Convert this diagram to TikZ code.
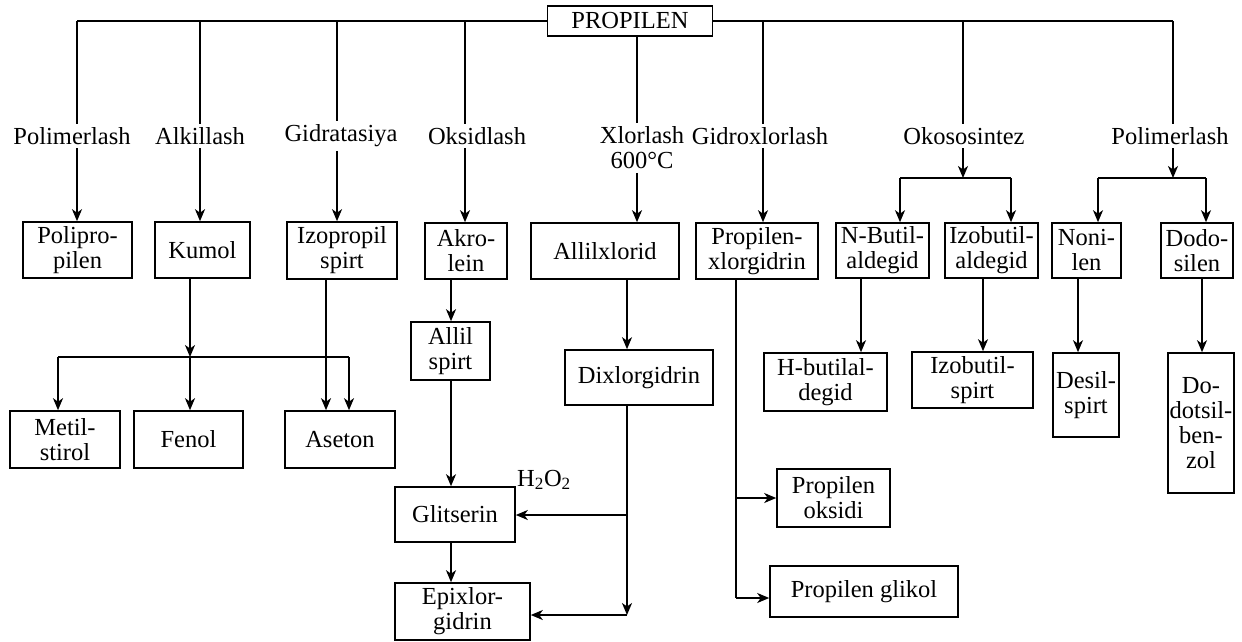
\documentclass[tikz,border=0pt]{standalone}
\usepackage{fontspec}
\setmainfont{Liberation Serif}
\usetikzlibrary{arrows.meta,calc}
\begin{document}
\begin{tikzpicture}[x=1pt,y=-1pt,
  every node/.style={font=\fontsize{24.5}{25}\selectfont},
  line width=1.6pt,
  arr/.style={-{Stealth[length=12pt,width=10pt,inset=3.5pt]}},
  bx/.style={draw,align=center,inner sep=0pt},
  lbl/.style={align=center,inner sep=3pt}]
\useasboundingbox (0,0) rectangle (1242,642);
% top
\node[bx,minimum width=165pt,minimum height=30pt] (prop) at (630,21) {PROPILEN};
\coordinate (b1) at (77,21);
\coordinate (b2) at (200,21);
\coordinate (b3) at (337,21);
\coordinate (b4) at (465,21);
\coordinate (b5) at (637,21);
\coordinate (b6) at (763,21);
\coordinate (b7) at (963,21);
\coordinate (b8) at (1173,21);
\draw (prop.west) -- (b1);
\draw (prop.east) -- (b8);
% labels
\node[lbl] (l1) at (72,136) {Polimerlash};
\node[lbl] (l2) at (200,136) {Alkillash};
\node[lbl] (l3) at (341,136) {Gidratasiya};
\node[lbl] (l4) at (477,136) {Oksidlash};
\node[lbl] (l5) at (642,148) {Xlorlash\\600°C};
\node[lbl] (l6) at (760,136) {Gidroxlorlash};
\node[lbl] (l7) at (964,136) {Okososintez};
\node[lbl] (l8) at (1170,136) {Polimerlash};
% first row boxes
\node[bx,minimum width=109pt,minimum height=56pt] (pp) at (77.5,250) {Polipro-\\pilen};
\node[bx,minimum width=95pt,minimum height=56pt] (km) at (202.5,250) {Kumol};
\node[bx,minimum width=110pt,minimum height=57pt] (ip) at (342,250.5) {Izopropil\\spirt};
\node[bx,minimum width=82pt,minimum height=56pt] (ak) at (466,251) {Akro-\\lein};
\node[bx,minimum width=148pt,minimum height=56pt] (ax) at (605,251) {Allilxlorid};
\node[bx,minimum width=122pt,minimum height=56pt] (px) at (757,251) {Propilen-\\xlorgidrin};
\node[bx,minimum width=93pt,minimum height=55pt] (nb) at (882.5,250.5) {N-Butil-\\aldegid};
\node[bx,minimum width=93pt,minimum height=55pt] (ib) at (991.5,250.5) {Izobutil-\\aldegid};
\node[bx,minimum width=69pt,minimum height=55pt] (nl) at (1086.5,250.5) {Noni-\\len};
\node[bx,minimum width=72pt,minimum height=55pt] (ds) at (1197,250.5) {Dodo-\\silen};
% main verticals
\foreach \b/\l/\t in {b1/l1/pp,b2/l2/km,b3/l3/ip,b4/l4/ak,b6/l6/px}{
  \draw (\b) -- (\b |- \l.north);
  \draw[arr] (\l.south -| \b) -- (\t.north -| \b);
}
\draw (prop.south -| b5) -- (b5 |- l5.north);
\draw[arr] (l5.south -| b5) -- (ax.north -| b5);
% Okososintez
\coordinate (o1) at (963,178);
\coordinate (o2) at (900,178);
\coordinate (o3) at (1011,178);
\draw (b7) -- (b7 |- l7.north);
\draw[arr] (l7.south -| b7) -- (o1);
\draw (o2) -- (o3);
\draw[arr] (o2) -- (nb.north -| o2);
\draw[arr] (o3) -- (ib.north -| o3);
% Polimerlash right
\coordinate (p1) at (1173,178);
\coordinate (p2) at (1098,178);
\coordinate (p3) at (1206,178);
\draw (b8) -- (b8 |- l8.north);
\draw[arr] (l8.south -| b8) -- (p1);
\draw (p2) -- (p3);
\draw[arr] (p2) -- (nl.north -| p2);
\draw[arr] (p3) -- (ds.north -| p3);
% Kumol branch
\node[bx,minimum width=110pt,minimum height=57pt] (ms) at (65,439.5) {Metil-\\stirol};
\node[bx,minimum width=109pt,minimum height=57pt] (fe) at (188.5,439.5) {Fenol};
\node[bx,minimum width=110pt,minimum height=57pt] (as) at (340,439.5) {Aseton};
\coordinate (k0) at (190,357);
\coordinate (k1) at (58,357);
\coordinate (k2) at (349,357);
\draw[arr] (km.south -| k0) -- (k0);
\draw (k1) -- (k2);
\draw[arr] (k1) -- (ms.north -| k1);
\draw[arr] (k0) -- (fe.north -| k0);
\draw[arr] (k2) -- (as.north -| k2);
\coordinate (i0) at (326,300);
\draw[arr] (ip.south -| i0) -- (as.north -| i0);
% Akrolein branch
\node[bx,minimum width=79pt,minimum height=58pt] (al) at (450.5,351) {Allil\\spirt};
\node[bx,minimum width=120pt,minimum height=55pt] (gl) at (455,514.5) {Glitserin};
\node[bx,minimum width=135pt,minimum height=57pt] (ep) at (462.5,611.5) {Epixlor-\\gidrin};
\node[inner sep=0pt] (h2o2) at (544,480) {H\textsubscript{2}O\textsubscript{2}};
\coordinate (a0) at (451,300);
\draw[arr] (ak.south -| a0) -- (al.north -| a0);
\draw[arr] (al.south -| a0) -- (gl.north -| a0);
\draw[arr] (gl.south -| a0) -- (ep.north -| a0);
% Allilxlorid branch
\node[bx,minimum width=148pt,minimum height=55pt] (dx) at (639,377.5) {Dixlorgidrin};
\coordinate (x0) at (627,300);
\coordinate (x1) at (627,515);
\coordinate (x2) at (627,615);
\draw[arr] (ax.south -| x0) -- (dx.north -| x0);
\draw[arr] (dx.south -| x0) -- (x2);
\draw[arr] (x1) -- (gl.east |- x1);
\draw[arr] (x2) -- (ep.east |- x2);
% Propilenxlorgidrin branch
\node[bx,minimum width=113pt,minimum height=58pt] (po) at (833.5,498) {Propilen\\oksidi};
\node[bx,minimum width=188pt,minimum height=51pt] (pg) at (864,591.5) {Propilen glikol};
\coordinate (q0) at (736,300);
\coordinate (q1) at (736,498);
\coordinate (q2) at (736,598);
\draw (px.south -| q0) -- (q2);
\draw[arr] (q1) -- (po.west);
\draw[arr] (q2) -- (pg.west |- q2);
% right lower
\node[bx,minimum width=123pt,minimum height=58pt] (hb) at (825.5,382) {H-butilal-\\degid};
\node[bx,minimum width=121pt,minimum height=56pt] (is) at (972.5,380) {Izobutil-\\spirt};
\node[bx,minimum width=66pt,minimum height=84pt] (dsp) at (1086,395) {Desil-\\spirt};
\node[bx,minimum width=66pt,minimum height=140pt] (dd) at (1201,423) {Do-\\dotsil-\\ben-\\zol};
\coordinate (r1) at (861,300);
\coordinate (r2) at (983,300);
\coordinate (r3) at (1078,300);
\coordinate (r4) at (1202,300);
\draw[arr] (nb.south -| r1) -- (hb.north -| r1);
\draw[arr] (ib.south -| r2) -- (is.north -| r2);
\draw[arr] (nl.south -| r3) -- (dsp.north -| r3);
\draw[arr] (ds.south -| r4) -- (dd.north -| r4);
\end{tikzpicture}
\end{document}
